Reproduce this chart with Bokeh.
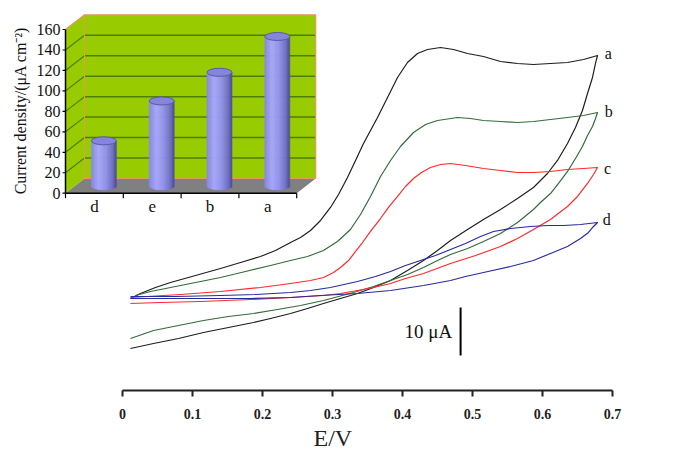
import numpy as np
from bokeh.plotting import figure
from bokeh.models import Range1d, FixedTicker, Title
from bokeh.core.properties import value
from bokeh.embed import file_html
from bokeh.resources import INLINE

# ---------------- main CV data (E in V, I in uA with arbitrary offset) ----------------
E_a = [0.0114, 0.0257, 0.0471, 0.0686, 0.1043, 0.14, 0.1686, 0.1971, 0.2186, 0.24, 0.2543, 0.2686, 0.2829,
       0.2971, 0.3086, 0.3214, 0.3329, 0.3443, 0.3543, 0.3643, 0.3786, 0.3929, 0.4071, 0.4214, 0.4357, 0.4543,
       0.4729, 0.4929, 0.5157, 0.54, 0.5643, 0.5871, 0.6114, 0.6357, 0.6586, 0.6786,
       0.6757, 0.6714, 0.6643, 0.6571, 0.6471, 0.6357, 0.6214, 0.6071, 0.5871, 0.5643, 0.54, 0.5157, 0.4929,
       0.4686, 0.45, 0.43, 0.4071, 0.3829, 0.3586, 0.3357, 0.3114, 0.2871, 0.2643, 0.24, 0.2114, 0.1871,
       0.1514, 0.1157, 0.08, 0.0443, 0.0114]
I_a = [19.17, 20.21, 21.46, 22.5, 23.96, 25.42, 26.67, 27.92, 29.17, 30.83, 31.88, 33.33, 35.42,
       38.13, 40.83, 44.38, 47.92, 51.46, 54.17, 56.88, 61.04, 65.21, 68.33, 70.21, 71.04, 71.46,
       71.04, 70.21, 69.58, 68.54, 68.13, 67.92, 68.13, 68.33, 68.96, 69.79,
       68.13, 65.21, 61.88, 58.33, 54.79, 51.46, 47.92, 45.21, 42.29, 40.0, 37.71, 35.63, 33.54,
       31.25, 29.17, 27.08, 25.0, 22.92, 21.46, 20.21, 19.17, 18.13, 17.08, 16.04, 15.0, 14.17,
       13.13, 12.08, 10.83, 9.79, 8.75]

E_b = [0.0186, 0.04, 0.0686, 0.1043, 0.14, 0.1757, 0.2114, 0.24, 0.2643, 0.2871, 0.3071, 0.3257, 0.34,
       0.3543, 0.3686, 0.3829, 0.3971, 0.4157, 0.4329, 0.45, 0.4786, 0.4971, 0.5157, 0.54, 0.5643, 0.5871,
       0.6114, 0.6357, 0.6586, 0.6786,
       0.6757, 0.6714, 0.6643, 0.6571, 0.6471, 0.6357, 0.6229, 0.6114, 0.5971, 0.5871, 0.5643, 0.54, 0.5157,
       0.4929, 0.4686, 0.45, 0.43, 0.4071, 0.3829, 0.3586, 0.33, 0.3086, 0.2871, 0.2543, 0.2214, 0.1871,
       0.1514, 0.1157, 0.08, 0.0443, 0.0114]
I_b = [19.79, 20.63, 21.46, 22.5, 23.54, 24.79, 26.04, 27.08, 27.92, 29.17, 31.04, 33.54, 36.67,
       40.42, 44.58, 47.92, 50.83, 53.75, 55.42, 56.25, 56.88, 56.67, 56.25, 56.04, 55.83, 56.04,
       56.46, 56.88, 57.29, 57.92,
       56.67, 55.0, 53.13, 50.83, 48.33, 45.63, 43.13, 41.04, 39.17, 37.71, 35.0, 32.71, 31.04,
       29.58, 28.33, 27.08, 25.63, 24.17, 22.92, 21.67, 20.42, 19.58, 18.75, 17.71, 16.88, 16.04,
       15.42, 14.58, 13.54, 12.5, 10.83]

E_c = [0.0114, 0.0829, 0.14, 0.1971, 0.24, 0.2686, 0.2871, 0.3014, 0.3114, 0.3229, 0.3329, 0.3429, 0.3543,
       0.3686, 0.38, 0.3929, 0.4043, 0.4157, 0.4271, 0.44, 0.4543, 0.4686, 0.49, 0.5157, 0.54, 0.5643, 0.5871,
       0.6114, 0.6357, 0.6586, 0.6786,
       0.6729, 0.6643, 0.65, 0.6357, 0.6114, 0.5871, 0.5643, 0.54, 0.5043, 0.4686, 0.43, 0.4043, 0.3829,
       0.3586, 0.3357, 0.3114, 0.2871, 0.24, 0.1829, 0.1114, 0.0543, 0.0114]
I_c = [19.38, 20.0, 20.63, 21.46, 22.29, 22.92, 23.54, 24.58, 25.63, 27.08, 28.96, 30.83, 33.13,
       35.83, 38.13, 40.42, 42.5, 44.17, 45.42, 46.46, 47.08, 47.29, 46.88, 46.25, 45.83, 45.42, 45.42,
       45.63, 46.04, 46.25, 46.46,
       45.0, 43.13, 40.42, 38.33, 35.63, 33.54, 31.67, 30.0, 28.13, 26.46, 24.38, 23.33, 22.29,
       21.46, 20.83, 20.21, 19.79, 19.38, 18.96, 18.54, 18.33, 18.13]

E_d = [0.0114, 0.0757, 0.14, 0.19, 0.24, 0.2686, 0.2971, 0.3357, 0.3614, 0.3829, 0.4043, 0.4257, 0.4471,
       0.4686, 0.49, 0.5114, 0.53, 0.5543, 0.5829, 0.6071, 0.63, 0.6543, 0.6786,
       0.6729, 0.6657, 0.6543, 0.6357, 0.6114, 0.5871, 0.5543, 0.5157, 0.49, 0.4686, 0.43, 0.3829, 0.3357,
       0.2829, 0.24, 0.1829, 0.1114, 0.0114]
I_d = [19.58, 19.58, 19.79, 20.0, 20.42, 20.83, 21.46, 22.71, 23.75, 24.79, 26.04, 27.08, 28.13,
       29.38, 30.63, 32.08, 33.13, 33.75, 34.17, 34.38, 34.38, 34.58, 35.0,
       34.17, 32.92, 31.67, 30.0, 28.54, 27.08, 25.83, 24.58, 23.75, 22.92, 21.88, 20.83, 20.21,
       19.79, 19.38, 19.17, 19.17, 19.17]

curve_names = ["a", "b", "c", "d"]
curve_colors = ["#1e1e1e", "#356b3c", "#ff2a2a", "#2a2aa0"]
label_E = [0.689, 0.689, 0.688, 0.686]
label_I = [70.2, 58.1, 46.3, 35.6]

x_ticks = [0, 0.1, 0.2, 0.3, 0.4, 0.5, 0.6, 0.7]
x_tick_labels = ["0", "0.1", "0.2", "0.3", "0.4", "0.5", "0.6", "0.7"]

scale_E = 0.483
scale_I0 = 7.3
scale_len = 10.0
scale_text = "10 μA"

# ---------------- inset bar data ----------------
bar_cats = ["d", "e", "b", "a"]
bar_vals = [44, 83, 111, 146]
inset_ticks = [0, 20, 40, 60, 80, 100, 120, 140, 160]
inset_title = "Current density/(μA cm⁻²)"

# ---------------- layout geometry (canvas px) ----------------
W, H = 680, 452
FR_L, FR_R, FR_T, FR_B = 0, 680, 0, 390
X0PX, PX_PER_V = 122, 700.0
PX_PER_UA = 4.8
IN_OX, IN_OY = 65, 192.7
IN_PX_CAT, IN_PX_VAL = 57.8, 1.023
DX = 19 / IN_PX_CAT
DY = 14.7 / IN_PX_VAL

serif = "Liberation Serif"

p = figure(width=W, height=H, output_backend="svg", toolbar_location=None,
           x_range=Range1d((FR_L - X0PX) / PX_PER_V, (FR_R - X0PX) / PX_PER_V),
           y_range=Range1d(0, (FR_B - FR_T) / PX_PER_UA),
           y_axis_location=None,
           min_border_left=0, min_border_right=0, min_border_top=0,
           min_border_bottom=H - FR_B)
p.grid.visible = False
p.outline_line_color = None
p.background_fill_color = "white"
p.border_fill_color = "white"

p.extra_x_ranges = {"ins": Range1d((FR_L - IN_OX) / IN_PX_CAT, (FR_R - IN_OX) / IN_PX_CAT)}
p.extra_y_ranges = {"ins": Range1d((IN_OY - FR_B) / IN_PX_VAL, (IN_OY - FR_T) / IN_PX_VAL)}

# x axis
ax = p.xaxis[0]
ax.bounds = (0, 0.7)
ax.ticker = FixedTicker(ticks=x_ticks)
ax.major_label_overrides = {t: s for t, s in zip(x_ticks, x_tick_labels)}
ax.minor_tick_line_color = None
ax.major_tick_in = 0
ax.major_tick_out = 6
ax.axis_line_width = 2
ax.major_tick_line_width = 2
ax.axis_line_color = "#222222"
ax.major_tick_line_color = "#222222"
ax.major_label_text_font = serif
ax.major_label_text_font_style = "bold"
ax.major_label_text_font_size = "14px"
ax.major_label_text_color = "#222222"
ax.major_label_standoff = 12

p.add_layout(Title(text="E/V", align="left", offset=313, text_font=serif, text_font_size="24px",
                   text_font_style="normal", text_color="#222222", standoff=2), "below")

# ---------------- inset ----------------
R = dict(x_range_name="ins", y_range_name="ins")
wall_green = "#99cc00"
grid_green = "#4f7f00"
edge_orange = "#e39a5a"

p.quad(left=[DX], right=[4 + DX], bottom=[DY], top=[160 + DY], fill_color=wall_green, line_color=None, **R)
p.patch(x=[0, 0, DX, DX], y=[0, 160, 160 + DY, DY], fill_color=wall_green, line_color=None, **R)
p.patch(x=[0, 4, 4 + DX, DX], y=[0, 0, DY, DY], fill_color="#808080", line_color=None, **R)

gv = inset_ticks[1:-1]
p.segment(x0=[DX] * len(gv), y0=[v + DY for v in gv], x1=[4 + DX] * len(gv), y1=[v + DY for v in gv],
          line_color=grid_green, line_width=1.5, **R)
p.segment(x0=[0] * len(gv), y0=gv, x1=[DX] * len(gv), y1=[v + DY for v in gv],
          line_color=grid_green, line_width=1.2, **R)
p.line(x=[0, DX, 4 + DX, 4 + DX], y=[160, 160 + DY, 160 + DY, DY], line_color=edge_orange, line_width=1.2, **R)
p.line(x=[DX, DX, 4 + DX], y=[160 + DY, DY, DY], line_color=edge_orange, line_width=1, **R)

# bars drawn as shaded cylinders
hw = 12.5 / IN_PX_CAT
ell_h = 8 / IN_PX_VAL
N = 18
prof_t = [0, 0.3, 0.6, 0.85, 1.0]
prof_rgb = np.array([[0x88, 0x88, 0xe4], [0xa8, 0xa8, 0xff], [0x92, 0x92, 0xee], [0x72, 0x72, 0xc8], [0x4c, 0x4c, 0x98]])
L, Rr, B, T, C = [], [], [], [], []
for i, v in enumerate(bar_vals):
    uc = i + 0.5 + DX / 2
    vb = DY / 2
    vt = v + DY / 2
    for k in range(N):
        x0 = uc - hw + 2 * hw * k / N
        x1 = x0 + 2 * hw / N
        xm = (x0 + x1) / 2
        bot = vb - (ell_h / 2) * np.sqrt(max(0.0, 1 - ((xm - uc) / hw) ** 2))
        t = (k + 0.5) / N
        rgb = [int(np.interp(t, prof_t, prof_rgb[:, c])) for c in range(3)]
        L.append(x0); Rr.append(x1); B.append(bot); T.append(vt)
        C.append("#%02x%02x%02x" % tuple(rgb))
p.quad(left=L, right=Rr, bottom=B, top=T, fill_color=C, line_color=C, line_width=0.6, **R)
bx = [i + 0.5 + DX / 2 for i in range(len(bar_vals))]
p.ellipse(x=bx, y=[v + DY / 2 for v in bar_vals], width=2 * hw, height=ell_h,
          fill_color="#8585da", line_color="#5a5aa6", line_width=1, **R)

# inset axes
p.line(x=[0, 0], y=[0, 160], line_color="black", line_width=1.5, **R)
p.line(x=[0, 4], y=[0, 0], line_color="black", line_width=1.5, **R)
tk = 3 / IN_PX_CAT
p.segment(x0=[-tk] * len(inset_ticks), y0=inset_ticks, x1=[0] * len(inset_ticks), y1=inset_ticks,
          line_color="black", line_width=1.2, **R)
p.segment(x0=list(range(5)), y0=[0] * 5, x1=list(range(5)), y1=[-5 / IN_PX_VAL] * 5,
          line_color="black", line_width=1.2, **R)
p.text(x=[-5 / IN_PX_CAT] * len(inset_ticks), y=inset_ticks, text=[str(t) for t in inset_ticks],
       text_font=value(serif), text_font_size="16px", text_align="right", text_baseline="middle",
       text_color="#111111", **R)
p.text(x=[i + 0.5 for i in range(len(bar_cats))], y=[-13.0] * len(bar_cats), text=bar_cats,
       text_font=value(serif), text_font_size="17px", text_align="center", text_baseline="middle",
       text_color="#111111", **R)
p.text(x=[(20 - IN_OX) / IN_PX_CAT], y=[(IN_OY - 110) / IN_PX_VAL], text=[inset_title], angle=np.pi / 2,
       text_font=value(serif), text_font_size="16px", text_align="center", text_baseline="middle",
       text_color="#111111", **R)

# ---------------- CV curves ----------------
for E, I, col in zip([E_a, E_b, E_c, E_d], [I_a, I_b, I_c, I_d], curve_colors):
    p.line(x=E, y=I, line_color=col, line_width=1.2, line_join="round")

p.text(x=label_E, y=label_I, text=curve_names, text_font=value(serif), text_font_size="16px",
       text_align="left", text_baseline="middle", text_color="#111111")

p.segment(x0=[scale_E], y0=[scale_I0], x1=[scale_E], y1=[scale_I0 + scale_len], line_color="black", line_width=2)
p.text(x=[scale_E - 0.012], y=[scale_I0 + scale_len / 2], text=[scale_text], text_font=value(serif),
       text_font_size="19px", text_align="right", text_baseline="middle", text_color="#111111")

open("out.html", "w").write(file_html(p, INLINE))
